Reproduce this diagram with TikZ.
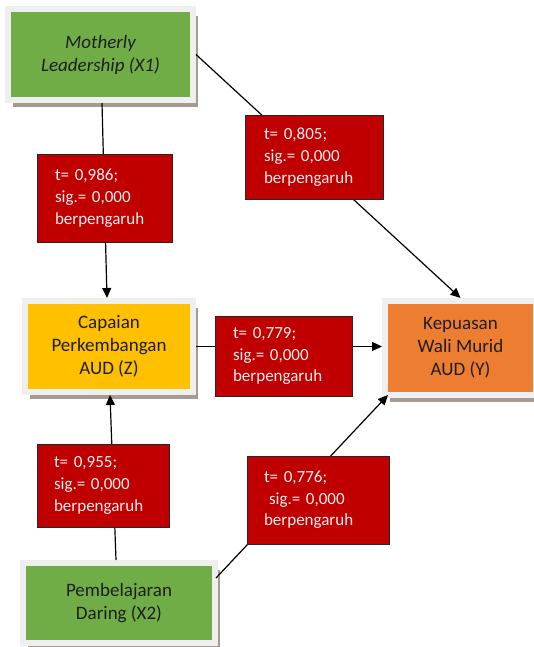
\documentclass[tikz,border=0pt]{standalone}
\usepackage{fontspec}
\setmainfont{Carlito}
\usetikzlibrary{shadows,arrows.meta,calc}
\definecolor{grn}{RGB}{112,173,71}
\definecolor{ylw}{RGB}{255,192,0}
\definecolor{org}{RGB}{237,125,49}
\definecolor{redb}{RGB}{192,0,0}
\definecolor{frm}{RGB}{239,239,239}
\definecolor{shd}{RGB}{165,155,145}
\definecolor{txt}{RGB}{30,30,30}
\definecolor{rtxt}{RGB}{252,238,238}
\begin{document}
\begin{tikzpicture}[x=1pt,y=-1pt,
  mainbox/.style={draw=frm, line width=6pt, outer sep=3pt, inner sep=0pt, align=center, text=txt,
    font=\fontsize{19}{23}\selectfont,
    drop shadow={shadow xshift=5pt, shadow yshift=-7pt, fill=shd, opacity=1}},
  redbox/.style={fill=redb, draw=black!85, line width=0.8pt, inner xsep=18pt, inner ysep=0pt,
    align=left, text=rtxt, font=\fontsize{17}{21.7}\selectfont},
  arr/.style={line width=1.2pt, -{Triangle[length=10pt,width=9pt]}},
  ln/.style={line width=1.2pt}]
\useasboundingbox (0,0) rectangle (534,647);

\node[mainbox, fill=grn, minimum width=185pt, minimum height=91pt,
  font=\fontsize{19}{23}\selectfont\itshape] (mot) at (100.5,54.5) {Motherly\\Leadership (X1)};
\node[mainbox, fill=ylw, minimum width=168pt, minimum height=91pt] (cap) at (109,346.5) {Capaian\\Perkembangan\\AUD (Z)};
\node[mainbox, fill=org, minimum width=151pt, minimum height=94pt] (kep) at (460.5,348) {Kepuasan\\Wali Murid\\AUD (Y)};
\node[mainbox, fill=grn, minimum width=192pt, minimum height=80pt] (pem) at (119,603) {Pembelajaran\\Daring (X2)};

\draw[arr] ($(mot.south)+(1.5,0)$) -- ($(cap.north)+(-2,0)$);
\draw[arr] (mot.east) -- (kep.north);
\draw[arr] (cap.east) -- (cap.east -| kep.west);
\draw[arr] ($(pem.north)+(-3,0)$) -- ($(cap.south)+(1,0)$);
\draw[arr] ($(pem.north east)+(-2,18)$) -- ($(kep.south west)+(6,-3)$);

\node[redbox, text width=99pt, minimum height=88pt] (r1) at (104.5,198) {t= 0,986;\\sig.= 0,000\\berpengaruh};
\node[redbox, text width=100pt, minimum height=84pt, inner xsep=19pt] (r2) at (314,157) {t= 0,805;\\sig.= 0,000\\berpengaruh};
\node[redbox, text width=101pt, minimum height=80pt] (r3) at (283.5,356) {t= 0,779;\\sig.= 0,000\\berpengaruh};
\node[redbox, text width=98pt, minimum height=83pt, inner xsep=17pt] (r4) at (103,485.5) {t= 0,955;\\sig.= 0,000\\berpengaruh};
\node[redbox, text width=108pt, minimum height=88pt, inner xsep=17pt] (r5) at (318,500) {t= 0,776;\\\hspace*{5pt}sig.= 0,000\\berpengaruh};
\end{tikzpicture}
\end{document}
